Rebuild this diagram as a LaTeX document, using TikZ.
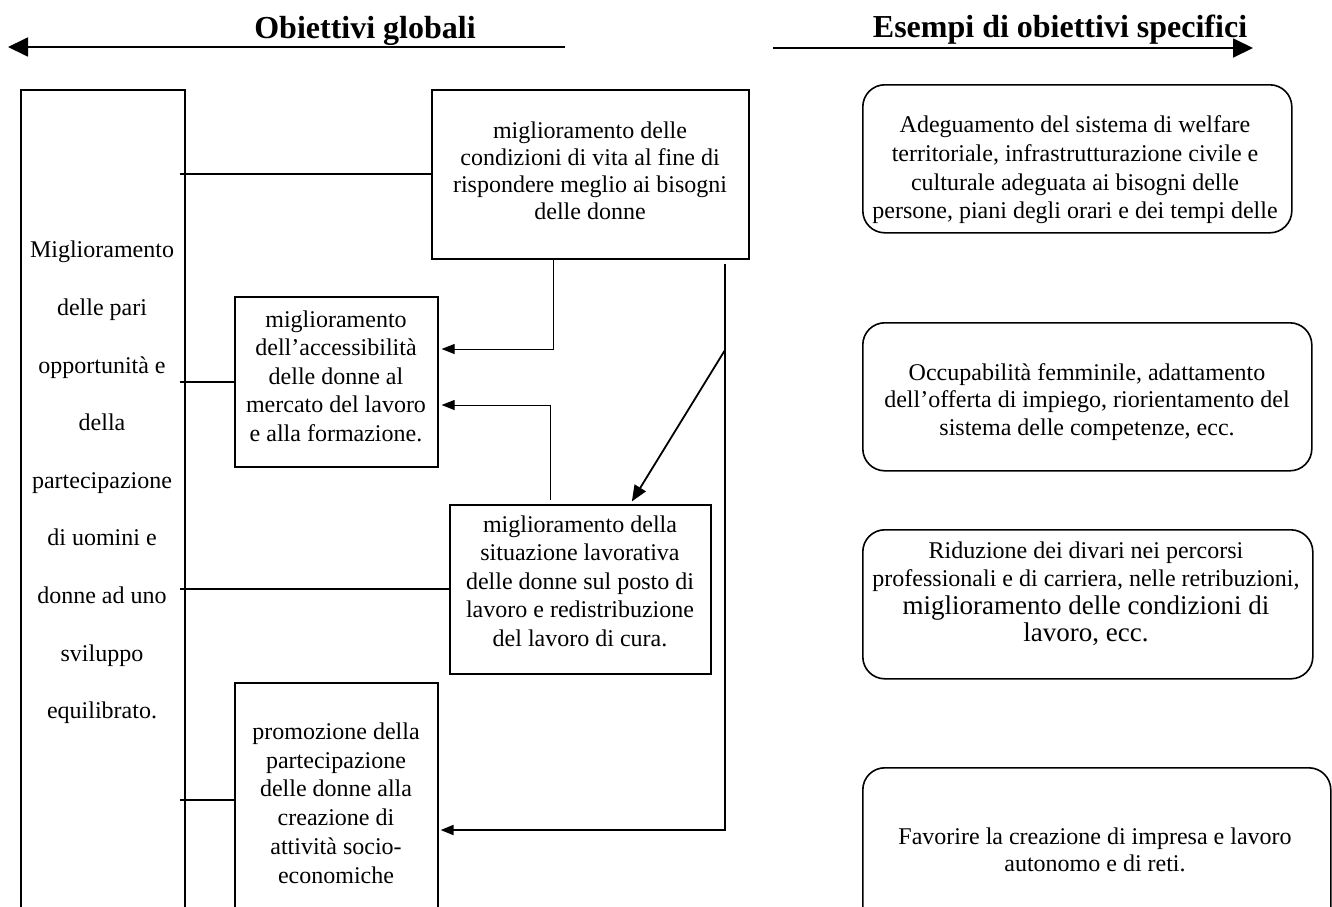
\documentclass[tikz,border=0pt]{standalone}
\usepackage{fontspec}
\setmainfont{Liberation Serif}
\usetikzlibrary{arrows.meta}
\begin{document}
\begin{tikzpicture}[x=1pt,y=-1pt,
  box/.style={draw, line width=1.6pt, inner sep=0pt, anchor=north west},
  rbox/.style={draw, line width=1.6pt, rounded corners=22pt, inner sep=0pt, anchor=north west},
  txt/.style={align=center, inner sep=0pt, font=\fontsize{24}{28.5}\selectfont},
  thinline/.style={line width=1pt},
  thickline/.style={line width=1.8pt},
  tip/.style={-{Triangle[length=13pt,width=10pt]}},
  bigtip/.style={-{Triangle[length=16pt,width=13pt]}},
  titletip/.style={-{Triangle[length=20pt,width=19pt]}},
  title/.style={font=\fontsize{32}{36}\selectfont\bfseries, anchor=base, inner sep=0pt}]
\useasboundingbox (0,0) rectangle (1332,906);
\clip (0,0) rectangle (1332,906);
\fill[white] (0,0) rectangle (1332,906);

% titles
\node[title] (T1) at (365,38) {Obiettivi globali};
\node[title] (T2) at (1060,37) {Esempi di obiettivi specifici};
\coordinate (ta1) at (565,47);
\coordinate (ta2) at (8,47);
\coordinate (tb1) at (773,48);
\coordinate (tb2) at (1253,48);
\draw[thickline, titletip] (ta1) -- (ta2);
\draw[thickline, titletip] (tb1) -- (tb2);

% left big box
\node[box, minimum width=164pt, minimum height=900pt] (L) at (20,89) {};
\node[txt, font=\fontsize{24}{57.6}\selectfont] (Lt) at (102,482.5)
  {Miglioramento\\delle pari\\opportunità e\\della\\partecipazione\\di uomini e\\donne ad uno\\sviluppo\\equilibrato.};

% global objective boxes
\node[box, minimum width=317pt, minimum height=169pt] (A) at (431,89) {};
\node[txt, font=\fontsize{24}{27}\selectfont] (At) at (590,171)
  {miglioramento delle\\condizioni di vita al fine di\\rispondere meglio ai bisogni\\delle donne};

\node[box, minimum width=203pt, minimum height=170pt] (B) at (234,296) {};
\node[txt] (Bt) at (336,376)
  {miglioramento\\dell’accessibilità\\delle donne al\\mercato del lavoro\\e alla formazione.};

\node[box, minimum width=261pt, minimum height=169pt] (C) at (449,504) {};
\node[txt] (Ct) at (580,581)
  {miglioramento della\\situazione lavorativa\\delle donne sul posto di\\lavoro e redistribuzione\\del lavoro di cura.};

\node[box, minimum width=203pt, minimum height=260pt] (D) at (234,682) {};
\node[txt, font=\fontsize{24}{28.8}\selectfont] (Dt) at (336,803)
  {promozione della\\partecipazione\\delle donne alla\\creazione di\\attività socio-\\economiche};

% specific objective boxes
\node[rbox, minimum width=429pt, minimum height=148pt] (R1) at (862,84) {};
\node[txt, font=\fontsize{24}{28.7}\selectfont] (R1t) at (1075,170)
  {Adeguamento del sistema di welfare\\territoriale, infrastrutturazione civile e\\culturale adeguata ai bisogni delle\\persone, piani degli orari e dei tempi delle};

\node[rbox, minimum width=449pt, minimum height=148pt] (R2) at (862,322) {};
\node[txt, font=\fontsize{24}{27.5}\selectfont] (R2t) at (1087,402)
  {Occupabilità femminile, adattamento\\dell’offerta di impiego, riorientamento del\\sistema delle competenze, ecc.};

\node[rbox, minimum width=450pt, minimum height=149pt] (R3) at (862,529) {};
\node[txt, font=\fontsize{24}{27.8}\selectfont] (R3t) at (1086,594)
  {Riduzione dei divari nei percorsi\\professionali e di carriera, nelle retribuzioni,\\{\fontsize{27}{27.8}\selectfont miglioramento delle condizioni di}\\{\fontsize{27}{27.8}\selectfont lavoro, ecc.}};

\node[rbox, minimum width=468pt, minimum height=200pt] (R4) at (862,767) {};
\node[txt, font=\fontsize{24}{27}\selectfont] (R4t) at (1095,850)
  {Favorire la creazione di impresa e lavoro\\autonomo e di reti.};

% connectors from the left box
\coordinate (Le) at ([xshift=-6pt]L.east);
\coordinate (dj) at (0,800);
\draw[thickline] (Le |- A.west) -- (A.west);
\draw[thickline] (Le |- B.west) -- (B.west);
\draw[thickline] (Le |- C.west) -- (C.west);
\draw[thickline] (Le |- dj) -- (D.west |- dj);

% connectors between boxes
\coordinate (j1) at (553,349);
\draw[thinline, tip, shorten >=3pt] (A.south -| j1) -- (j1) -- (B.east |- j1);
\coordinate (j2) at (550,405);
\draw[thinline, tip, shorten >=3pt, shorten <=4pt] (C.north -| j2) -- (j2) -- (B.east |- j2);
\coordinate (As) at ([yshift=-4pt]A.south);
\coordinate (j3) at (725,830);
\draw[thickline, tip, shorten >=2pt] (As -| j3) -- (j3) -- (D.east |- j3);
\coordinate (j4) at (725,350);
\coordinate (ct) at ([xshift=50pt]C.north);
\draw[thickline, bigtip, shorten >=3pt] (j4) -- (ct);
\end{tikzpicture}
\end{document}
